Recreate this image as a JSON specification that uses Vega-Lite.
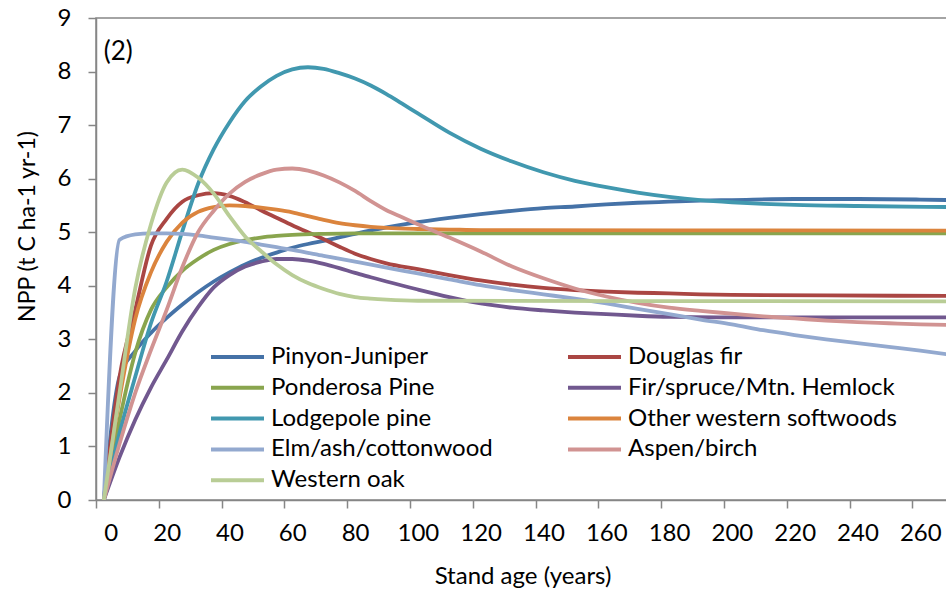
{
  "$schema": "https://vega.github.io/schema/vega-lite/v6.json",
  "width": 853,
  "height": 482,
  "autosize": "none",
  "padding": {"left": 96, "top": 18, "right": 0, "bottom": 91},
  "background": "white",
  "config": {
    "view": {"stroke": "#868686", "strokeWidth": 1.5},
    "font": "Lato",
    "axis": {"labelFont": "Lato", "titleFont": "Lato", "labelColor": "#000000", "titleColor": "#000000", "domainColor": "#868686", "tickColor": "#868686", "domainWidth": 1.5, "tickWidth": 1.5, "grid": false, "titleFontWeight": "normal"},
    "legend": {"labelFont": "Lato"}
  },
  "layer": [
    {
      "data": {"values": [
        {"series":"Pinyon-Juniper","age":0,"npp":0},{"series":"Pinyon-Juniper","age":5,"npp":2.3},{"series":"Pinyon-Juniper","age":10,"npp":2.78},{"series":"Pinyon-Juniper","age":15,"npp":3.12},{"series":"Pinyon-Juniper","age":20,"npp":3.4},{"series":"Pinyon-Juniper","age":25,"npp":3.65},{"series":"Pinyon-Juniper","age":30,"npp":3.88},{"series":"Pinyon-Juniper","age":35,"npp":4.08},{"series":"Pinyon-Juniper","age":40,"npp":4.25},{"series":"Pinyon-Juniper","age":45,"npp":4.4},{"series":"Pinyon-Juniper","age":50,"npp":4.52},{"series":"Pinyon-Juniper","age":55,"npp":4.62},{"series":"Pinyon-Juniper","age":60,"npp":4.71},{"series":"Pinyon-Juniper","age":65,"npp":4.78},{"series":"Pinyon-Juniper","age":70,"npp":4.84},{"series":"Pinyon-Juniper","age":80,"npp":4.97},{"series":"Pinyon-Juniper","age":90,"npp":5.09},{"series":"Pinyon-Juniper","age":100,"npp":5.19},{"series":"Pinyon-Juniper","age":110,"npp":5.27},{"series":"Pinyon-Juniper","age":120,"npp":5.34},{"series":"Pinyon-Juniper","age":130,"npp":5.4},{"series":"Pinyon-Juniper","age":140,"npp":5.45},{"series":"Pinyon-Juniper","age":150,"npp":5.48},{"series":"Pinyon-Juniper","age":160,"npp":5.52},{"series":"Pinyon-Juniper","age":170,"npp":5.55},{"series":"Pinyon-Juniper","age":180,"npp":5.57},{"series":"Pinyon-Juniper","age":190,"npp":5.59},{"series":"Pinyon-Juniper","age":200,"npp":5.6},{"series":"Pinyon-Juniper","age":220,"npp":5.62},{"series":"Pinyon-Juniper","age":240,"npp":5.62},{"series":"Pinyon-Juniper","age":260,"npp":5.61},{"series":"Pinyon-Juniper","age":270,"npp":5.6},
        {"series":"Douglas fir","age":0,"npp":0},{"series":"Douglas fir","age":5,"npp":2.3},{"series":"Douglas fir","age":10,"npp":3.55},{"series":"Douglas fir","age":15,"npp":4.75},{"series":"Douglas fir","age":20,"npp":5.25},{"series":"Douglas fir","age":25,"npp":5.57},{"series":"Douglas fir","age":30,"npp":5.69},{"series":"Douglas fir","age":35,"npp":5.73},{"series":"Douglas fir","age":40,"npp":5.68},{"series":"Douglas fir","age":45,"npp":5.56},{"series":"Douglas fir","age":50,"npp":5.41},{"series":"Douglas fir","age":55,"npp":5.27},{"series":"Douglas fir","age":60,"npp":5.13},{"series":"Douglas fir","age":65,"npp":5.0},{"series":"Douglas fir","age":70,"npp":4.87},{"series":"Douglas fir","age":75,"npp":4.73},{"series":"Douglas fir","age":80,"npp":4.6},{"series":"Douglas fir","age":85,"npp":4.5},{"series":"Douglas fir","age":90,"npp":4.42},{"series":"Douglas fir","age":100,"npp":4.31},{"series":"Douglas fir","age":110,"npp":4.2},{"series":"Douglas fir","age":120,"npp":4.1},{"series":"Douglas fir","age":130,"npp":4.02},{"series":"Douglas fir","age":140,"npp":3.96},{"series":"Douglas fir","age":150,"npp":3.92},{"series":"Douglas fir","age":160,"npp":3.89},{"series":"Douglas fir","age":170,"npp":3.87},{"series":"Douglas fir","age":180,"npp":3.86},{"series":"Douglas fir","age":190,"npp":3.84},{"series":"Douglas fir","age":200,"npp":3.83},{"series":"Douglas fir","age":230,"npp":3.82},{"series":"Douglas fir","age":270,"npp":3.81},
        {"series":"Ponderosa Pine","age":0,"npp":0},{"series":"Ponderosa Pine","age":5,"npp":1.5},{"series":"Ponderosa Pine","age":10,"npp":2.75},{"series":"Ponderosa Pine","age":15,"npp":3.55},{"series":"Ponderosa Pine","age":20,"npp":3.97},{"series":"Ponderosa Pine","age":25,"npp":4.28},{"series":"Ponderosa Pine","age":30,"npp":4.5},{"series":"Ponderosa Pine","age":35,"npp":4.67},{"series":"Ponderosa Pine","age":40,"npp":4.78},{"series":"Ponderosa Pine","age":45,"npp":4.85},{"series":"Ponderosa Pine","age":50,"npp":4.9},{"series":"Ponderosa Pine","age":55,"npp":4.93},{"series":"Ponderosa Pine","age":60,"npp":4.95},{"series":"Ponderosa Pine","age":70,"npp":4.97},{"series":"Ponderosa Pine","age":80,"npp":4.98},{"series":"Ponderosa Pine","age":100,"npp":4.98},{"series":"Ponderosa Pine","age":270,"npp":4.98},
        {"series":"Fir/spruce/Mtn. Hemlock","age":0,"npp":0},{"series":"Fir/spruce/Mtn. Hemlock","age":5,"npp":0.8},{"series":"Fir/spruce/Mtn. Hemlock","age":10,"npp":1.5},{"series":"Fir/spruce/Mtn. Hemlock","age":15,"npp":2.1},{"series":"Fir/spruce/Mtn. Hemlock","age":20,"npp":2.62},{"series":"Fir/spruce/Mtn. Hemlock","age":25,"npp":3.15},{"series":"Fir/spruce/Mtn. Hemlock","age":30,"npp":3.6},{"series":"Fir/spruce/Mtn. Hemlock","age":35,"npp":3.97},{"series":"Fir/spruce/Mtn. Hemlock","age":40,"npp":4.2},{"series":"Fir/spruce/Mtn. Hemlock","age":45,"npp":4.36},{"series":"Fir/spruce/Mtn. Hemlock","age":50,"npp":4.45},{"series":"Fir/spruce/Mtn. Hemlock","age":55,"npp":4.5},{"series":"Fir/spruce/Mtn. Hemlock","age":60,"npp":4.5},{"series":"Fir/spruce/Mtn. Hemlock","age":65,"npp":4.47},{"series":"Fir/spruce/Mtn. Hemlock","age":70,"npp":4.41},{"series":"Fir/spruce/Mtn. Hemlock","age":75,"npp":4.33},{"series":"Fir/spruce/Mtn. Hemlock","age":80,"npp":4.24},{"series":"Fir/spruce/Mtn. Hemlock","age":85,"npp":4.16},{"series":"Fir/spruce/Mtn. Hemlock","age":90,"npp":4.08},{"series":"Fir/spruce/Mtn. Hemlock","age":100,"npp":3.93},{"series":"Fir/spruce/Mtn. Hemlock","age":110,"npp":3.79},{"series":"Fir/spruce/Mtn. Hemlock","age":120,"npp":3.67},{"series":"Fir/spruce/Mtn. Hemlock","age":130,"npp":3.59},{"series":"Fir/spruce/Mtn. Hemlock","age":140,"npp":3.54},{"series":"Fir/spruce/Mtn. Hemlock","age":150,"npp":3.5},{"series":"Fir/spruce/Mtn. Hemlock","age":160,"npp":3.47},{"series":"Fir/spruce/Mtn. Hemlock","age":170,"npp":3.44},{"series":"Fir/spruce/Mtn. Hemlock","age":180,"npp":3.42},{"series":"Fir/spruce/Mtn. Hemlock","age":200,"npp":3.41},{"series":"Fir/spruce/Mtn. Hemlock","age":270,"npp":3.41},
        {"series":"Lodgepole pine","age":0,"npp":0},{"series":"Lodgepole pine","age":5,"npp":1.25},{"series":"Lodgepole pine","age":10,"npp":2.3},{"series":"Lodgepole pine","age":15,"npp":3.3},{"series":"Lodgepole pine","age":20,"npp":4.08},{"series":"Lodgepole pine","age":25,"npp":5.02},{"series":"Lodgepole pine","age":30,"npp":5.9},{"series":"Lodgepole pine","age":35,"npp":6.55},{"series":"Lodgepole pine","age":40,"npp":7.05},{"series":"Lodgepole pine","age":45,"npp":7.45},{"series":"Lodgepole pine","age":50,"npp":7.72},{"series":"Lodgepole pine","age":55,"npp":7.92},{"series":"Lodgepole pine","age":60,"npp":8.04},{"series":"Lodgepole pine","age":65,"npp":8.08},{"series":"Lodgepole pine","age":70,"npp":8.05},{"series":"Lodgepole pine","age":75,"npp":7.97},{"series":"Lodgepole pine","age":80,"npp":7.87},{"series":"Lodgepole pine","age":85,"npp":7.74},{"series":"Lodgepole pine","age":90,"npp":7.58},{"series":"Lodgepole pine","age":95,"npp":7.4},{"series":"Lodgepole pine","age":100,"npp":7.22},{"series":"Lodgepole pine","age":110,"npp":6.86},{"series":"Lodgepole pine","age":120,"npp":6.56},{"series":"Lodgepole pine","age":130,"npp":6.32},{"series":"Lodgepole pine","age":140,"npp":6.12},{"series":"Lodgepole pine","age":150,"npp":5.96},{"series":"Lodgepole pine","age":160,"npp":5.84},{"series":"Lodgepole pine","age":170,"npp":5.74},{"series":"Lodgepole pine","age":180,"npp":5.66},{"series":"Lodgepole pine","age":190,"npp":5.6},{"series":"Lodgepole pine","age":200,"npp":5.56},{"series":"Lodgepole pine","age":210,"npp":5.53},{"series":"Lodgepole pine","age":220,"npp":5.51},{"series":"Lodgepole pine","age":240,"npp":5.49},{"series":"Lodgepole pine","age":270,"npp":5.47},
        {"series":"Other western softwoods","age":0,"npp":0},{"series":"Other western softwoods","age":5,"npp":1.9},{"series":"Other western softwoods","age":10,"npp":3.38},{"series":"Other western softwoods","age":15,"npp":4.25},{"series":"Other western softwoods","age":20,"npp":4.82},{"series":"Other western softwoods","age":25,"npp":5.18},{"series":"Other western softwoods","age":30,"npp":5.38},{"series":"Other western softwoods","age":35,"npp":5.47},{"series":"Other western softwoods","age":40,"npp":5.5},{"series":"Other western softwoods","age":45,"npp":5.49},{"series":"Other western softwoods","age":50,"npp":5.46},{"series":"Other western softwoods","age":55,"npp":5.42},{"series":"Other western softwoods","age":60,"npp":5.37},{"series":"Other western softwoods","age":65,"npp":5.3},{"series":"Other western softwoods","age":70,"npp":5.23},{"series":"Other western softwoods","age":75,"npp":5.17},{"series":"Other western softwoods","age":80,"npp":5.13},{"series":"Other western softwoods","age":85,"npp":5.1},{"series":"Other western softwoods","age":90,"npp":5.08},{"series":"Other western softwoods","age":100,"npp":5.06},{"series":"Other western softwoods","age":110,"npp":5.05},{"series":"Other western softwoods","age":120,"npp":5.04},{"series":"Other western softwoods","age":270,"npp":5.03},
        {"series":"Elm/ash/cottonwood","age":0,"npp":0},{"series":"Elm/ash/cottonwood","age":5,"npp":4.86},{"series":"Elm/ash/cottonwood","age":10,"npp":4.96},{"series":"Elm/ash/cottonwood","age":15,"npp":4.98},{"series":"Elm/ash/cottonwood","age":20,"npp":4.98},{"series":"Elm/ash/cottonwood","age":25,"npp":4.97},{"series":"Elm/ash/cottonwood","age":30,"npp":4.94},{"series":"Elm/ash/cottonwood","age":35,"npp":4.9},{"series":"Elm/ash/cottonwood","age":40,"npp":4.86},{"series":"Elm/ash/cottonwood","age":45,"npp":4.82},{"series":"Elm/ash/cottonwood","age":50,"npp":4.77},{"series":"Elm/ash/cottonwood","age":55,"npp":4.72},{"series":"Elm/ash/cottonwood","age":60,"npp":4.67},{"series":"Elm/ash/cottonwood","age":70,"npp":4.56},{"series":"Elm/ash/cottonwood","age":80,"npp":4.45},{"series":"Elm/ash/cottonwood","age":90,"npp":4.34},{"series":"Elm/ash/cottonwood","age":100,"npp":4.23},{"series":"Elm/ash/cottonwood","age":110,"npp":4.12},{"series":"Elm/ash/cottonwood","age":120,"npp":4.01},{"series":"Elm/ash/cottonwood","age":130,"npp":3.92},{"series":"Elm/ash/cottonwood","age":140,"npp":3.84},{"series":"Elm/ash/cottonwood","age":150,"npp":3.76},{"series":"Elm/ash/cottonwood","age":160,"npp":3.67},{"series":"Elm/ash/cottonwood","age":170,"npp":3.57},{"series":"Elm/ash/cottonwood","age":180,"npp":3.47},{"series":"Elm/ash/cottonwood","age":190,"npp":3.37},{"series":"Elm/ash/cottonwood","age":200,"npp":3.28},{"series":"Elm/ash/cottonwood","age":210,"npp":3.17},{"series":"Elm/ash/cottonwood","age":220,"npp":3.08},{"series":"Elm/ash/cottonwood","age":230,"npp":3.0},{"series":"Elm/ash/cottonwood","age":240,"npp":2.93},{"series":"Elm/ash/cottonwood","age":250,"npp":2.86},{"series":"Elm/ash/cottonwood","age":260,"npp":2.79},{"series":"Elm/ash/cottonwood","age":270,"npp":2.71},
        {"series":"Aspen/birch","age":0,"npp":0},{"series":"Aspen/birch","age":5,"npp":1.05},{"series":"Aspen/birch","age":10,"npp":2.0},{"series":"Aspen/birch","age":15,"npp":2.8},{"series":"Aspen/birch","age":20,"npp":3.55},{"series":"Aspen/birch","age":25,"npp":4.35},{"series":"Aspen/birch","age":30,"npp":5.0},{"series":"Aspen/birch","age":35,"npp":5.4},{"series":"Aspen/birch","age":40,"npp":5.72},{"series":"Aspen/birch","age":45,"npp":5.94},{"series":"Aspen/birch","age":50,"npp":6.08},{"series":"Aspen/birch","age":55,"npp":6.17},{"series":"Aspen/birch","age":60,"npp":6.19},{"series":"Aspen/birch","age":65,"npp":6.15},{"series":"Aspen/birch","age":70,"npp":6.06},{"series":"Aspen/birch","age":75,"npp":5.93},{"series":"Aspen/birch","age":80,"npp":5.77},{"series":"Aspen/birch","age":85,"npp":5.58},{"series":"Aspen/birch","age":90,"npp":5.41},{"series":"Aspen/birch","age":95,"npp":5.28},{"series":"Aspen/birch","age":100,"npp":5.15},{"series":"Aspen/birch","age":110,"npp":4.9},{"series":"Aspen/birch","age":120,"npp":4.64},{"series":"Aspen/birch","age":130,"npp":4.36},{"series":"Aspen/birch","age":140,"npp":4.14},{"series":"Aspen/birch","age":150,"npp":3.95},{"series":"Aspen/birch","age":160,"npp":3.8},{"series":"Aspen/birch","age":170,"npp":3.68},{"series":"Aspen/birch","age":180,"npp":3.59},{"series":"Aspen/birch","age":190,"npp":3.53},{"series":"Aspen/birch","age":200,"npp":3.48},{"series":"Aspen/birch","age":210,"npp":3.43},{"series":"Aspen/birch","age":220,"npp":3.39},{"series":"Aspen/birch","age":230,"npp":3.35},{"series":"Aspen/birch","age":240,"npp":3.32},{"series":"Aspen/birch","age":250,"npp":3.3},{"series":"Aspen/birch","age":260,"npp":3.28},{"series":"Aspen/birch","age":270,"npp":3.27},
        {"series":"Western oak","age":0,"npp":0},{"series":"Western oak","age":5,"npp":2.0},{"series":"Western oak","age":10,"npp":3.95},{"series":"Western oak","age":15,"npp":5.15},{"series":"Western oak","age":20,"npp":5.93},{"series":"Western oak","age":25,"npp":6.17},{"series":"Western oak","age":30,"npp":6.02},{"series":"Western oak","age":35,"npp":5.72},{"series":"Western oak","age":40,"npp":5.3},{"series":"Western oak","age":45,"npp":4.92},{"series":"Western oak","age":50,"npp":4.65},{"series":"Western oak","age":55,"npp":4.4},{"series":"Western oak","age":60,"npp":4.2},{"series":"Western oak","age":65,"npp":4.05},{"series":"Western oak","age":70,"npp":3.94},{"series":"Western oak","age":75,"npp":3.85},{"series":"Western oak","age":80,"npp":3.79},{"series":"Western oak","age":85,"npp":3.76},{"series":"Western oak","age":90,"npp":3.74},{"series":"Western oak","age":100,"npp":3.72},{"series":"Western oak","age":270,"npp":3.71}
      ]},
      "mark": {"type": "line", "strokeWidth": 3.8, "interpolate": "monotone", "clip": true},
      "encoding": {
        "x": {"field": "age", "type": "quantitative",
              "scale": {"domain": [-2.5, 269.15], "nice": false, "zero": false},
              "axis": {"values": [-2.5,7.5,17.5,27.5,37.5,47.5,57.5,67.5,77.5,87.5,97.5,107.5,117.5,127.5,137.5,147.5,157.5,167.5,177.5,187.5,197.5,207.5,217.5,227.5,237.5,247.5,257.5,267.5],
                       "labelExpr": "(datum.value + 2.5) % 20 == 0 ? format(datum.value + 2.5, 'd') : ''",
                       "labelOffset": 7.85, "labelOverlap": false, "labelFontSize": 24, "labelPadding": 13, "tickSize": 8,
                       "title": "Stand age (years)", "titleFontSize": 24, "titlePadding": 19}},
        "y": {"field": "npp", "type": "quantitative",
              "scale": {"domain": [0, 9], "nice": false},
              "axis": {"values": [0,1,2,3,4,5,6,7,8,9], "format": "d", "labelFontSize": 24, "labelPadding": 17, "tickSize": 8,
                       "title": "NPP (t C ha-1 yr-1)", "titleFontSize": 23, "titlePadding": 18, "titleY": 208}},
        "color": {"field": "series", "type": "nominal",
                  "scale": {"domain": ["Pinyon-Juniper","Douglas fir","Ponderosa Pine","Fir/spruce/Mtn. Hemlock","Lodgepole pine","Other western softwoods","Elm/ash/cottonwood","Aspen/birch","Western oak"],
                            "range": ["#4572A7","#AA4643","#89A54E","#71588F","#4198AF","#DB843D","#93A9CF","#D19392","#B9CD96"]},
                  "legend": {"title": null, "orient": "none", "legendX": 113, "legendY": 327, "columns": 2, "direction": "horizontal",
                             "symbolType": "stroke", "symbolSize": 2809, "symbolStrokeWidth": 4, "clipHeight": 24,
                             "labelFontSize": 24, "labelOffset": 5, "rowPadding": 6.8, "columnPadding": 73, "padding": 0, "labelLimit": 400}}
      }
    },
    {
      "data": {"values": [{"label": "(2)", "age": 0, "npp": 8.36}]},
      "mark": {"type": "text", "align": "left", "baseline": "middle", "fontSize": 26, "font": "Lato"},
      "encoding": {
        "x": {"field": "age", "type": "quantitative"},
        "y": {"field": "npp", "type": "quantitative"},
        "text": {"field": "label"}
      }
    }
  ]
}
